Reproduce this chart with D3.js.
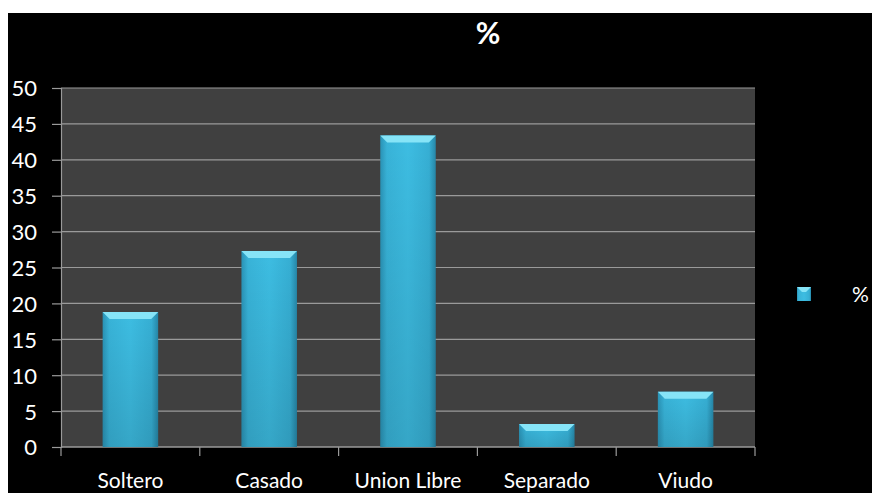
<!DOCTYPE html>
<html>
<head>
<meta charset="utf-8">
<script src="https://cdn.jsdelivr.net/npm/d3@7"></script>
<style>
  html, body { margin: 0; padding: 0; background: #ffffff; overflow: hidden; }
  svg { display: block; }
</style>
</head>
<body>
<svg id="chart" width="872" height="493"></svg>
<script>
// Marital status distribution (%)
const categories = ["Soltero", "Casado", "Union Libre", "Separado", "Viudo"];
const values = [18.8, 27.3, 43.4, 3.2, 7.7];
const yTicks = [0, 5, 10, 15, 20, 25, 30, 35, 40, 45, 50];
const seriesName = "%";

const W = 872, H = 493;
const svg = d3.select("#chart");
const font = "Lato, 'Open Sans', sans-serif";

// Black slide background (white strip along the top and left edge)
svg.append("rect").attr("x", 8).attr("y", 13).attr("width", W - 8).attr("height", H - 13).attr("fill", "#000");

const plot = { left: 61, right: 755, top: 88, bottom: 447 };

const x = d3.scaleBand().domain(categories).range([plot.left, plot.right]).paddingInner(0.6).paddingOuter(0.3);
const y = d3.scaleLinear().domain([0, 50]).range([plot.bottom, plot.top]);

// Plot area
svg.append("rect")
  .attr("x", plot.left).attr("y", plot.top)
  .attr("width", plot.right - plot.left).attr("height", plot.bottom - plot.top)
  .attr("fill", "#404040");

// Gridlines
svg.append("g").selectAll("line").data(yTicks).join("line")
  .attr("x1", plot.left).attr("x2", plot.right)
  .attr("y1", d => y(d)).attr("y2", d => y(d))
  .attr("stroke", "#9a9a9a").attr("stroke-width", 1.2);

// Y axis
const yAxis = d3.axisLeft(y).tickValues(yTicks).tickSize(9).tickPadding(15).tickFormat(d3.format("d"));
const gy = svg.append("g").attr("transform", `translate(${plot.left},0)`).call(yAxis);
gy.select(".domain").attr("stroke", "#9a9a9a").attr("stroke-width", 1.2);
gy.selectAll(".tick line").attr("stroke", "#9a9a9a").attr("stroke-width", 1.2);
gy.selectAll(".tick text").attr("fill", "#fff").attr("font-family", font).attr("font-size", 22).attr("dy", "0.36em");

// X axis: ticks at category boundaries
const step = (plot.right - plot.left) / categories.length;
const bounds = d3.range(categories.length + 1).map(i => plot.left + i * step);
const gx = svg.append("g");
gx.append("line").attr("x1", plot.left).attr("x2", plot.right)
  .attr("y1", plot.bottom).attr("y2", plot.bottom)
  .attr("stroke", "#9a9a9a").attr("stroke-width", 1.2);
gx.selectAll("line.b").data(bounds).join("line").attr("class", "b")
  .attr("x1", d => d).attr("x2", d => d)
  .attr("y1", plot.bottom).attr("y2", plot.bottom + 9)
  .attr("stroke", "#9a9a9a").attr("stroke-width", 1.2);
gx.selectAll("text").data(categories).join("text")
  .attr("x", d => x(d) + x.bandwidth() / 2)
  .attr("y", 488)
  .attr("text-anchor", "middle")
  .attr("fill", "#fff").attr("font-family", font).attr("font-size", 21)
  .text(d => d);

// Bar gradients
const defs = svg.append("defs");
const hg = defs.append("linearGradient").attr("id", "barH").attr("x1", 0).attr("x2", 1).attr("y1", 0).attr("y2", 0);
hg.append("stop").attr("offset", 0).attr("stop-color", "#2a93b6");
hg.append("stop").attr("offset", 0.12).attr("stop-color", "#38b3d8");
hg.append("stop").attr("offset", 0.5).attr("stop-color", "#3dbde2");
hg.append("stop").attr("offset", 0.88).attr("stop-color", "#36afd4");
hg.append("stop").attr("offset", 1).attr("stop-color", "#2687a8");
const vg = defs.append("linearGradient").attr("id", "barV").attr("x1", 0).attr("x2", 0).attr("y1", 0).attr("y2", 1);
vg.append("stop").attr("offset", 0).attr("stop-color", "#000").attr("stop-opacity", 0);
vg.append("stop").attr("offset", 1).attr("stop-color", "#000").attr("stop-opacity", 0.12);

const bars = svg.append("g").selectAll("g").data(categories.map((c, i) => ({ c, v: values[i] }))).join("g");
bars.append("rect")
  .attr("x", d => x(d.c)).attr("y", d => y(d.v))
  .attr("width", x.bandwidth()).attr("height", d => y(0) - y(d.v))
  .attr("fill", "url(#barH)");
bars.append("rect")
  .attr("x", d => x(d.c)).attr("y", d => y(d.v))
  .attr("width", x.bandwidth()).attr("height", d => y(0) - y(d.v))
  .attr("fill", "url(#barV)");
// Bevelled top edge
bars.append("path")
  .attr("d", d => {
    const x0 = x(d.c), x1 = x0 + x.bandwidth(), t = y(d.v), b = 7;
    return `M${x0},${t}L${x1},${t}L${x1 - b},${t + b}L${x0 + b},${t + b}Z`;
  })
  .attr("fill", "#86e4f7");

// Legend
const lg = svg.append("g");
lg.append("rect").attr("x", 797).attr("y", 287).attr("width", 14).attr("height", 14).attr("fill", "url(#barH)");
lg.append("path").attr("d", "M797,287L811,287L806,292L802,292Z").attr("fill", "#86e4f7");
lg.append("text").attr("x", 852).attr("y", 302).attr("fill", "#fff")
  .attr("font-family", font).attr("font-size", 21).text(seriesName);

// Title
svg.append("text").attr("x", 488).attr("y", 44).attr("text-anchor", "middle")
  .attr("fill", "#fff").attr("font-family", font).attr("font-weight", "bold").attr("font-size", 30)
  .text(seriesName);
</script>
</body>
</html>
